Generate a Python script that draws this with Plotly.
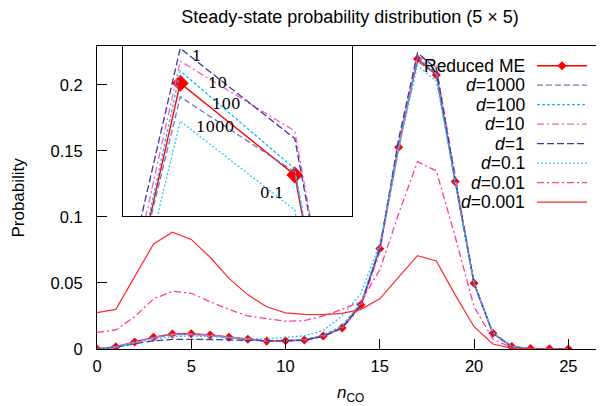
import plotly.graph_objects as go

# ---------------- data ----------------
n_co = list(range(26))

reduced_me = [0, 0.0017, 0.0053, 0.0089, 0.0114, 0.0116, 0.0106, 0.0089, 0.0074, 0.0060,
              0.0063, 0.0068, 0.0098, 0.0160, 0.0335, 0.0760, 0.1528, 0.2197, 0.2076, 0.1268,
              0.0498, 0.0119, 0.0018, 0.0003, 0.0001, 0.0]
d_1000 = [0, 0.0015, 0.0050, 0.0085, 0.0108, 0.0110, 0.0101, 0.0086, 0.0072, 0.0060,
          0.0062, 0.0068, 0.0098, 0.0165, 0.0340, 0.0770, 0.1560, 0.2179, 0.2080, 0.1270,
          0.0495, 0.0118, 0.0018, 0.0003, 0.0001, 0.0]
d_100 = [0, 0.0016, 0.0052, 0.0087, 0.0110, 0.0112, 0.0103, 0.0087, 0.0073, 0.0062,
         0.0065, 0.0072, 0.0104, 0.0175, 0.0350, 0.0770, 0.1510, 0.2213, 0.2084, 0.1262,
         0.0492, 0.0117, 0.0018, 0.0003, 0.0001, 0.0]
d_10 = [0, 0.0016, 0.0052, 0.0088, 0.0112, 0.0114, 0.0104, 0.0088, 0.0073, 0.0060,
        0.0062, 0.0067, 0.0096, 0.0155, 0.0320, 0.0730, 0.1546, 0.2226, 0.2134, 0.1300,
        0.0500, 0.0118, 0.0018, 0.0003, 0.0001, 0.0]
d_1 = [0, 0.0012, 0.0040, 0.0062, 0.0073, 0.0075, 0.0072, 0.0068, 0.0064, 0.0060,
       0.0061, 0.0066, 0.0095, 0.0160, 0.0330, 0.0760, 0.1590, 0.2243, 0.2124, 0.1290,
       0.0500, 0.0119, 0.0018, 0.0003, 0.0001, 0.0]
d_01 = [0, 0.0014, 0.0045, 0.0075, 0.0095, 0.0098, 0.0094, 0.0085, 0.0078, 0.0077,
        0.0088, 0.0100, 0.0140, 0.0250, 0.0420, 0.0800, 0.1520, 0.2147, 0.2030, 0.1250,
        0.0500, 0.0125, 0.0020, 0.0003, 0.0001, 0.0]
d_001 = [0.0126, 0.0144, 0.0245, 0.0379, 0.0437, 0.0422, 0.0358, 0.0300, 0.0250, 0.0232,
         0.0210, 0.0215, 0.0250, 0.0300, 0.0358, 0.0600, 0.1025, 0.1419, 0.1349, 0.0850,
         0.0320, 0.0075, 0.0010, 0.0001, 0.0, 0.0]
d_0001 = [0.0275, 0.0300, 0.0548, 0.0795, 0.0884, 0.0830, 0.0695, 0.0535, 0.0410, 0.0320,
          0.0274, 0.0263, 0.0260, 0.0270, 0.0300, 0.0380, 0.0544, 0.0707, 0.0667, 0.0410,
          0.0169, 0.0038, 0.0005, 0.0001, 0.0, 0.0]

labels = ["Reduced ME", "<i>d</i>=1000", "<i>d</i>=100", "<i>d</i>=10", "<i>d</i>=1",
          "<i>d</i>=0.1", "<i>d</i>=0.01", "<i>d</i>=0.001"]
values = [reduced_me, d_1000, d_100, d_10, d_1, d_01, d_001, d_0001]

x_ticks = [0, 5, 10, 15, 20, 25]
y_ticks = [0, 0.05, 0.1, 0.15, 0.2]
y_ticktext = ["0", "0.05", "0.1", "0.15", "0.2"]

inset_labels = ["1", "10", "100", "1000", "0.1"]

# ---------------- styles ----------------
colors = ["#ff0000", "#7474c6", "#22b6ee", "#ff5fb8", "#3a3a9e", "#33c4f4", "#ff3aa5", "#ff2a2a"]
dashes = ["solid", "6px,3px", "3px,2px", "7px,3px,2px,3px", "7px,3px", "2px,2px",
          "7px,3px,2px,3px", "solid"]
widths = [1.4, 1.3, 1.3, 1.3, 1.3, 1.3, 1.3, 1.2]

FONT = "Liberation Sans"
OFF = 8  # default page body margin of the html page

fig = go.Figure()

# main plot and inset
for i, (lab, vals) in enumerate(zip(labels, values)):
    is_me = i == 0
    for ax, msize in (("", 7), ("2", 13)):
        fig.add_trace(go.Scatter(
            x=n_co, y=vals, mode="lines+markers" if is_me else "lines",
            line=dict(color=colors[i], dash=dashes[i], width=widths[i]),
            marker=dict(symbol="diamond", size=msize, color=colors[i]) if is_me else None,
            xaxis="x" + ax, yaxis="y" + ax, showlegend=False, hoverinfo="skip"))

# manual gnuplot-style legend on a pixel-mapped overlay axis (screen pixels)
leg_x0, leg_x1, leg_text_x = 537, 587, 527
leg_y0, leg_dy = 65.7, 19.5
for i, lab in enumerate(labels):
    yy = leg_y0 + i * leg_dy
    fig.add_trace(go.Scatter(
        x=[leg_x0, leg_x1], y=[yy, yy], mode="lines",
        line=dict(color=colors[i], dash=dashes[i], width=widths[i]),
        xaxis="x3", yaxis="y3", showlegend=False, hoverinfo="skip"))
    if i == 0:
        fig.add_trace(go.Scatter(
            x=[(leg_x0 + leg_x1) / 2], y=[yy], mode="markers",
            marker=dict(symbol="diamond", size=7, color=colors[0]),
            xaxis="x3", yaxis="y3", showlegend=False, hoverinfo="skip"))
    fig.add_annotation(x=leg_text_x, y=yy, xref="x3", yref="y3", text=lab,
                       showarrow=False, xanchor="right", yanchor="middle",
                       font=dict(family=FONT, size=17.5, color="black"))

# inset labels
inset_pos = [(197, 55.5), (217.5, 82.7), (226.3, 103.7), (214.7, 127), (272, 193)]
for lab, (px, py) in zip(inset_labels, inset_pos):
    fig.add_annotation(x=px, y=py, xref="x3", yref="y3", text=lab, showarrow=False,
                       xanchor="center", yanchor="middle",
                       font=dict(family="DejaVu Serif", size=15, color="black"))

# axis titles as annotations (paper coords of the plot area)
fig.add_annotation(x=0.5, y=-0.148, xref="paper", yref="paper",
                   text="<i>n</i><sub>CO</sub>",
                   showarrow=False, xanchor="center", yanchor="middle",
                   font=dict(family=FONT, size=17, color="black"))
fig.add_annotation(x=-0.156, y=0.5, xref="paper", yref="paper", text="Probability",
                   showarrow=False, xanchor="center", yanchor="middle", textangle=-90,
                   font=dict(family=FONT, size=17, color="black"))

W, H = 604 - OFF, 406 - OFF
fig.update_layout(
    width=W, height=H,
    margin=dict(l=97 - OFF, r=W - (603 - OFF), t=46 - OFF, b=H - (349 - OFF),
                autoexpand=False),
    paper_bgcolor="white", plot_bgcolor="white",
    font=dict(family=FONT, size=16, color="black"),
    title=dict(text="Steady-state probability distribution (5 × 5)",
               x=0.5, xref="paper", y=1 - (17 - OFF) / H, yref="container",
               xanchor="center", yanchor="middle",
               font=dict(family=FONT, size=18, color="black")),
    xaxis=dict(domain=[0, 1], range=[0, 26.84], tickvals=x_ticks, ticks="inside",
               ticklen=10, tickcolor="black", showline=True, linecolor="black",
               linewidth=1, mirror=True, showgrid=False, zeroline=False,
               tickfont=dict(size=16.5), ticklabelstandoff=2, automargin=False),
    yaxis=dict(domain=[0, 1], range=[0, 0.2295], tickvals=y_ticks, ticktext=y_ticktext,
               ticks="inside", ticklen=10, tickcolor="black", showline=True,
               linecolor="black", linewidth=1, mirror=True, showgrid=False,
               zeroline=False, tickfont=dict(size=16.5), ticklabelstandoff=10,
               automargin=False),
    xaxis2=dict(domain=[0.0514, 0.504], range=[16.5, 18.5], anchor="y2",
                showline=True, linecolor="black", linewidth=1, mirror=True,
                ticks="", showticklabels=False, showgrid=False, zeroline=False),
    yaxis2=dict(domain=[0.439, 1.0], range=[0.2022, 0.2246], anchor="x2",
                showline=True, linecolor="black", linewidth=1, mirror=True,
                ticks="", showticklabels=False, showgrid=False, zeroline=False),
    xaxis3=dict(domain=[0, 1], range=[97, 603], anchor="y3", visible=False,
                overlaying="x"),
    yaxis3=dict(domain=[0, 1], range=[349, 46], anchor="x3", visible=False,
                overlaying="y"),
)

fig.write_html("out.html")
